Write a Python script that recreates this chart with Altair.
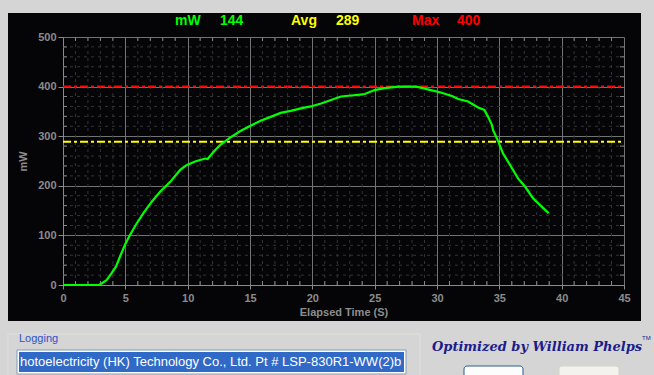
import altair as alt
import pandas as pd

# ---------------- data ----------------
time_s = [0, 2.9, 3.1, 3.5, 3.9, 4.25, 4.57, 4.97, 5.37, 5.91, 6.45, 7.12, 7.79, 8.6,
          9.4, 9.94, 10.6, 11.4, 11.6, 12.1, 12.6, 13.4, 14.2, 15.04, 15.85, 16.66,
          17.46, 18.27, 19.08, 19.88, 20.7, 21.5, 22.3, 23.1, 23.85, 24.2, 25.0, 25.8,
          26.9, 28.3, 28.7, 29.5, 30.3, 31.2, 31.7, 32.5, 33.3, 33.8, 34.1, 34.4, 34.5,
          34.9, 35.3, 35.86, 36.5, 37.07, 37.7, 38.4, 38.95]
power_mw = [0, 0, 3, 10, 24, 37, 57, 81, 101, 124, 145, 168, 188, 208,
            232, 242, 249, 255, 254, 269, 282, 297, 310, 321, 331, 339,
            347, 351, 356, 360, 366, 373, 380, 382, 384, 385, 393, 397,
            400, 400, 398, 393, 388, 381, 375, 370, 358, 353, 339, 323, 312,
            290, 265, 242, 215, 198, 175, 158, 145]

readout_labels = ["mW", "Avg", "Max"]
readout_values = [144, 289, 400]
readout_colors = ["#00ff00", "#ffff00", "#ff0000"]

x_major = [0, 5, 10, 15, 20, 25, 30, 35, 40, 45]
y_major = [0, 100, 200, 300, 400, 500]
x_minor = [v for v in range(1, 45) if v % 5]
y_minor = [v for v in range(20, 500, 20) if v % 100]

logging_text = "hotoelectricity (HK) Technology Co., Ltd. Pt # LSP-830R1-WW(2)b"

# ---------------- layout ----------------
W, H = 561, 248
PAD_L, PAD_T = 63, 37
GREY = "#d5d5d5"
FONT = "Liberation Sans"

xs = alt.Scale(domain=[0, 45], nice=False, zero=False)
ys = alt.Scale(domain=[0, 500], nice=False)
x_axis = alt.Axis(values=x_major, title="Elapsed Time (S)", grid=True, tickSize=4,
                  labelPadding=3, titlePadding=3, labelFlush=False)
y_axis = alt.Axis(values=y_major, title="mW", grid=True, tickSize=5,
                  labelPadding=2, titlePadding=9)

one = pd.DataFrame({"a": [0]})

def box(x, x2, y, y2, **kw):
    return alt.Chart(one).mark_rect(**kw).encode(
        x=alt.value(x), x2=alt.value(x2), y=alt.value(y), y2=alt.value(y2))

def label(txt, x, y, **kw):
    return alt.Chart(one).mark_text(text=txt, align="left", baseline="middle", **kw).encode(
        x=alt.value(x), y=alt.value(y))

# minor dashed grid
vminor = alt.Chart(pd.DataFrame({"t": x_minor})).mark_rule(
    color="#343434", strokeDash=[3, 4], strokeWidth=1).encode(
    x=alt.X("t:Q", scale=xs, axis=x_axis), y=alt.value(0), y2=alt.value(H))
hminor = alt.Chart(pd.DataFrame({"mw": y_minor})).mark_rule(
    color="#343434", strokeDash=[3, 4], strokeWidth=1).encode(
    y=alt.Y("mw:Q", scale=ys, axis=y_axis), x=alt.value(0), x2=alt.value(W))

# minor inner ticks on the frame
tick_c = "#8a8a8a"
tb = alt.Chart(pd.DataFrame({"t": x_minor})).mark_rule(color=tick_c).encode(
    x=alt.X("t:Q", scale=xs, axis=x_axis), y=alt.value(H - 4), y2=alt.value(H))
tt = alt.Chart(pd.DataFrame({"t": x_minor})).mark_rule(color=tick_c).encode(
    x=alt.X("t:Q", scale=xs, axis=x_axis), y=alt.value(0), y2=alt.value(4))
tl = alt.Chart(pd.DataFrame({"mw": y_minor})).mark_rule(color=tick_c).encode(
    y=alt.Y("mw:Q", scale=ys, axis=y_axis), x=alt.value(0), x2=alt.value(4))
tr = alt.Chart(pd.DataFrame({"mw": y_minor})).mark_rule(color=tick_c).encode(
    y=alt.Y("mw:Q", scale=ys, axis=y_axis), x=alt.value(W - 4), x2=alt.value(W))

# reference lines (avg / max)
ref_df = pd.DataFrame({"mw": readout_values[1:], "c": readout_colors[1:]})
refs = alt.Chart(ref_df).mark_rule(strokeWidth=2, strokeDash=[8, 3, 3, 3]).encode(
    y=alt.Y("mw:Q", scale=ys, axis=y_axis),
    color=alt.Color("c:N", scale=None),
    x=alt.value(0), x2=alt.value(W))

# power curve
line = alt.Chart(pd.DataFrame({"t": time_s, "mw": power_mw})).mark_line(
    color="#00ff00", strokeWidth=2.2).encode(
    x=alt.X("t:Q", scale=xs, axis=x_axis),
    y=alt.Y("mw:Q", scale=ys, axis=y_axis))

# readout header
header = []
hx = [(112, 157), (228, 273), (349, 394)]
for (lx, vx), lab, val, col in zip(hx, readout_labels, readout_values, readout_colors):
    header.append(label(lab, lx, -16, color=col, font=FONT, fontSize=14, fontWeight="bold"))
    header.append(label(str(val), vx, -16, color=col, font=FONT, fontSize=14, fontWeight="bold"))

# grey window surround
surround = [
    box(-PAD_L, -55, -PAD_T, 340, color=GREY),
    box(578, 600, -PAD_T, 340, color=GREY),
    box(-PAD_L, 600, -PAD_T, -24, color=GREY),
    box(-PAD_L, 600, 284, 340, color=GREY),
]

# bottom UI widgets
ui = [
    box(-55, 357, 297, 345, fill=None, stroke="#e0e0da", strokeWidth=1),
    label("Logging", -44, 302, color="#2f52c8", font=FONT, fontSize=11),
    box(-46, 343, 313, 337, fill="#ffffff", stroke="#7f9db9", strokeWidth=1),
    box(-44, 341, 315, 335, color="#3169c6"),
    label(logging_text, -43, 325, color="#ffffff", font=FONT, fontSize=13),
    box(401, 460, 329, 345, fill="#fcfcfc", stroke="#2c5a94", strokeWidth=1, cornerRadius=3),
    box(496, 556, 329, 345, fill="#f3f2ec", stroke="#d6d4c6", strokeWidth=1, cornerRadius=3),
    label("Optimized by William Phelps", 369, 310, color="#1c1c8c", font="DejaVu Serif",
          fontSize=13, fontStyle="italic", fontWeight="bold"),
    label("TM", 579, 301, color="#1c1c8c", font=FONT, fontSize=6),
]

chart = alt.layer(
    vminor, hminor, tb, tt, tl, tr, refs, line, *header, *surround, *ui
).properties(
    width=W, height=H,
    background="#050507",
    padding={"left": PAD_L, "top": PAD_T, "right": 654 - PAD_L - W, "bottom": 375 - PAD_T - H},
    autosize=alt.AutoSizeParams(type="none"),
).configure_view(stroke=None).configure_axis(
    gridColor="#737373", gridWidth=1, domainColor="#8a8a8a", tickColor="#8a8a8a",
    labelColor="#8c8c8c", labelFont=FONT, labelFontSize=11, labelFontWeight="bold",
    titleColor="#8c8c8c", titleFont=FONT, titleFontSize=11, titleFontWeight="bold",
)

chart.save("out.html", embed_options={"renderer": "svg", "actions": False})
